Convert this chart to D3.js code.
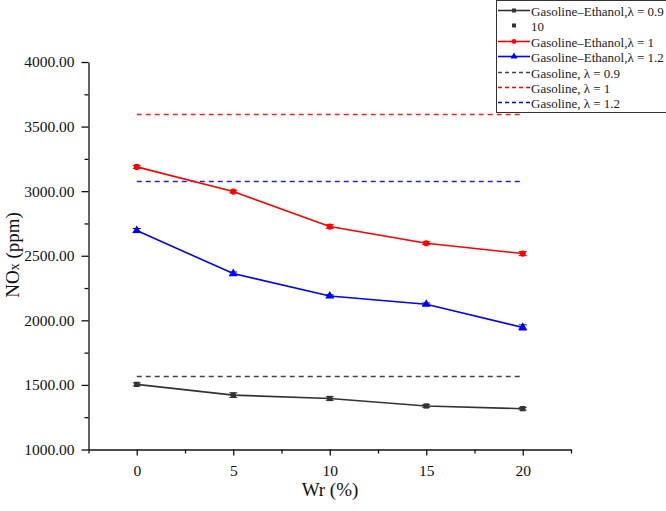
<!DOCTYPE html>
<html><head><meta charset="utf-8">
<script src="https://cdn.jsdelivr.net/npm/d3@7"></script>
<style>body{margin:0;background:#fff}svg{display:block}text{font-family:"Liberation Serif","Times New Roman",serif}</style>
</head><body>
<script>
const wr = [0, 5, 10, 15, 20];
const ge09 = [1504, 1421, 1395, 1337, 1316];
const ge09Err = [12, 18, 14, 10, 10];
const ge10 = [3188, 2997, 2726, 2597, 2517];
const ge10Err = [12, 10, 14, 10, 16];
const ge12 = [2695, 2362, 2188, 2124, 1945];
const ge12Err = [16, 12, 10, 10, 20];
const gas09 = 1571;
const gas10 = 3600;
const gas12 = 3075;
const yTicks = [1000, 1500, 2000, 2500, 3000, 3500, 4000];
const xTicks = [0, 5, 10, 15, 20];
const legendLabels = ["Gasoline\u2013Ethanol,\u03bb = 0.9", "10", "Gasoline\u2013Ethanol,\u03bb = 1", "Gasoline\u2013Ethanol,\u03bb = 1.2", "Gasoline, \u03bb = 0.9", "Gasoline, \u03bb = 1", "Gasoline, \u03bb = 1.2"];

const W = 666, H = 511;
const svg = d3.select("body").append("svg").attr("width", W).attr("height", H);
const x = d3.scaleLinear().domain([-2.5, 22.5]).range([88.5, 571]);
const y = d3.scaleLinear().domain([1000, 4000]).range([449.5, 62]);

// axes
const xAxis = svg.append("g").attr("transform", "translate(0,449.5)");
xAxis.call(d3.axisBottom(x).tickValues(xTicks).tickSize(6).tickPadding(9).tickSizeOuter(0).tickFormat(d3.format("d")));
xAxis.append("g").call(d3.axisBottom(x).tickValues(d3.range(-2.5, 23, 5)).tickSize(4).tickFormat("")).select(".domain").remove();
xAxis.selectAll("text").attr("font-size", 15.5).attr("fill", "#111");
const yAxis = svg.append("g").attr("transform", "translate(88.5,0)");
yAxis.call(d3.axisLeft(y).tickValues(yTicks).tickSize(7).tickPadding(7).tickSizeOuter(0).tickFormat(d3.format(".2f")));
yAxis.append("g").call(d3.axisLeft(y).tickValues(d3.range(1250, 4000, 500)).tickSize(4).tickFormat("")).select(".domain").remove();
yAxis.selectAll("text").attr("font-size", 15.5).attr("fill", "#111");
svg.selectAll(".domain, .tick line").attr("stroke", "#111").attr("stroke-width", 1.3);

// titles
svg.append("text").attr("x", 330).attr("y", 496).attr("text-anchor", "middle").attr("font-size", 19).attr("fill", "#111").text("Wr (%)");
const yt = svg.append("text").attr("transform", "translate(19,255) rotate(-90)").attr("text-anchor", "middle").attr("font-size", 19).attr("fill", "#111");
yt.append("tspan").text("NO");
yt.append("tspan").attr("font-size", 14).text("x");
yt.append("tspan").text(" (ppm)");

// dashed reference lines
const dashes = [[gas09, "#444"], [gas10, "#ff2020"], [gas12, "#2020ff"]];
dashes.forEach(([v, c]) => {
  svg.append("line").attr("x1", x(0)).attr("x2", x(20)).attr("y1", Math.round(y(v)) + 0.5).attr("y2", Math.round(y(v)) + 0.5)
    .attr("stroke", c).attr("stroke-width", 1.4).attr("stroke-dasharray", "5,4");
});

const series = [
  {vals: ge09, err: ge09Err, color: "#333", shape: d3.symbolSquare, size: 28},
  {vals: ge10, err: ge10Err, color: "#ff0000", shape: d3.symbolCircle, size: 30},
  {vals: ge12, err: ge12Err, color: "#0000ff", shape: d3.symbolTriangle, size: 34}
];
const line = d3.line().x((d, i) => x(wr[i])).y(d => y(d));
series.forEach(s => {
  const g = svg.append("g");
  g.append("path").datum(s.vals).attr("d", line).attr("fill", "none").attr("stroke", s.color).attr("stroke-width", 1.6);
  s.vals.forEach((v, i) => {
    const cx = x(wr[i]);
    g.append("line").attr("x1", cx).attr("x2", cx).attr("y1", y(v - s.err[i])).attr("y2", y(v + s.err[i])).attr("stroke", s.color).attr("stroke-width", 1);
    [v - s.err[i], v + s.err[i]].forEach(e => g.append("line").attr("x1", cx - 4).attr("x2", cx + 4).attr("y1", y(e)).attr("y2", y(e)).attr("stroke", s.color).attr("stroke-width", 1));
    g.append("path").attr("d", d3.symbol().type(s.shape).size(s.size)()).attr("transform", `translate(${cx},${y(v)})`).attr("fill", s.color);
  });
});

// legend
const lg = svg.append("g");
lg.append("rect").attr("x", 496.5).attr("y", 0.5).attr("width", 180).attr("height", 112).attr("fill", "#fff").attr("stroke", "#333").attr("stroke-width", 1);
const rowY = i => Math.round(10 + i * 15.4) + 0.5;
const legendStyle = [
  {c: "#333", line: "solid", sym: d3.symbolSquare, size: 16},
  {c: "#333", line: "none", sym: d3.symbolSquare, size: 16},
  {c: "#ff0000", line: "solid", sym: d3.symbolCircle, size: 18},
  {c: "#0000ff", line: "solid", sym: d3.symbolTriangle, size: 20},
  {c: "#444", line: "dash"},
  {c: "#ff0000", line: "dash"},
  {c: "#0000ff", line: "dash"}
];
legendLabels.forEach((t, i) => {
  const st = legendStyle[i];
  const yy = rowY(i);
  if (st.line !== "none") {
    lg.append("line").attr("x1", 498).attr("x2", 530).attr("y1", yy).attr("y2", yy).attr("stroke", st.c)
      .attr("stroke-width", st.line === "dash" ? 1.5 : 1.6).attr("stroke-dasharray", st.line === "dash" ? "4,3" : null);
  }
  if (st.sym) lg.append("path").attr("d", d3.symbol().type(st.sym).size(st.size)()).attr("transform", `translate(514,${yy})`).attr("fill", st.c);
  lg.append("text").attr("x", 531).attr("y", yy + 5).attr("font-size", 13).attr("fill", "#222").text(t);
});
</script>
</body></html>
